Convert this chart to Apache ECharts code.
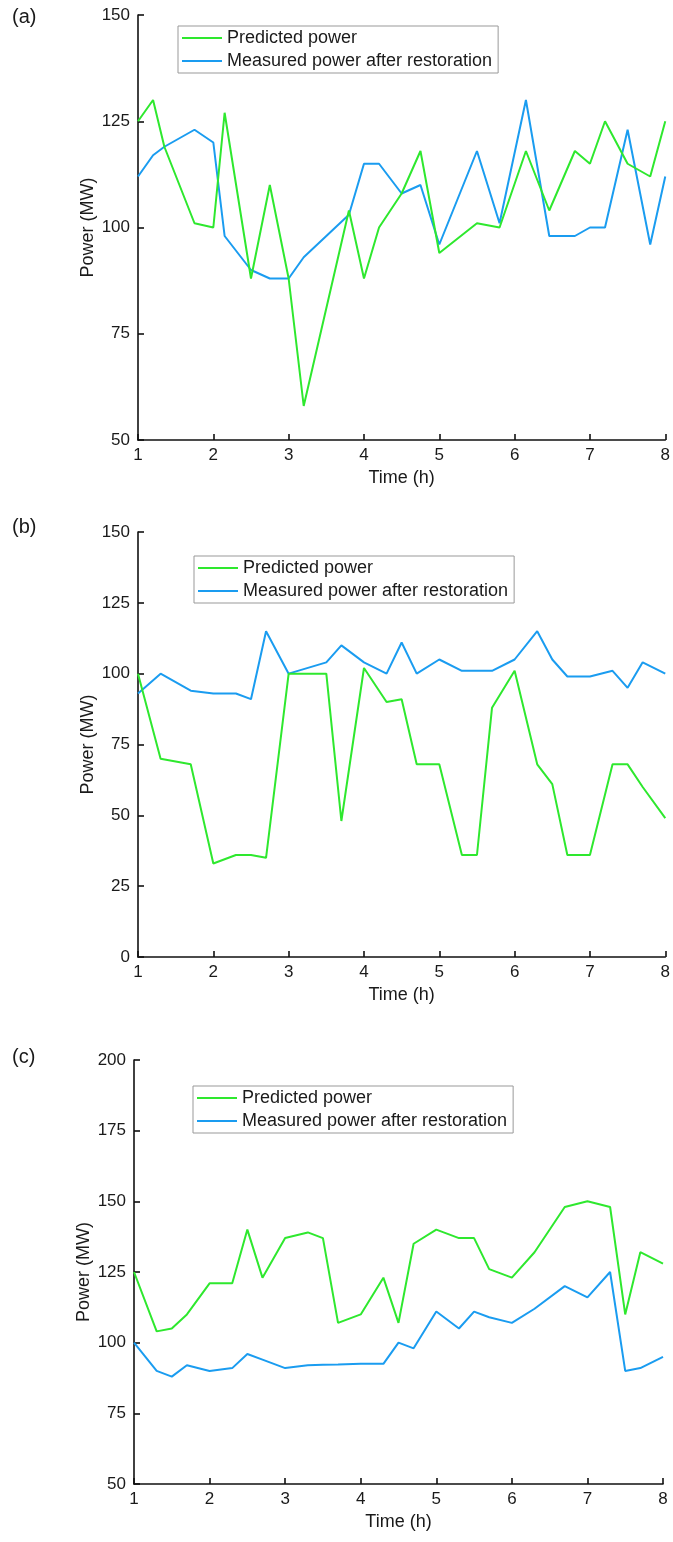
<!DOCTYPE html>
<html>
<head>
<meta charset="utf-8">
<script src="https://cdn.jsdelivr.net/npm/echarts@6/dist/echarts.min.js"></script>
<style>
html,body{margin:0;padding:0;background:#fff;}
#main{width:673px;height:1542px;}
</style>
</head>
<body>
<div id="main"></div>
<script>
// panel (a)
var timeA = [1, 1.2, 1.35, 1.75, 2, 2.15, 2.5, 2.75, 3, 3.2, 3.8, 4, 4.2, 4.5, 4.75, 5, 5.5, 5.8, 6.15, 6.46, 6.8, 7, 7.2, 7.5, 7.8, 8];
var predA = [125, 130, 119, 101, 100, 127, 88, 110, 88, 58, 104, 88, 100, 108, 118, 94, 101, 100, 118, 104, 118, 115, 125, 115, 112, 125];
var measA = [112, 117, 119, 123, 120, 98, 90, 88, 88, 93, 103, 115, 115, 108, 110, 96, 118, 101, 130, 98, 98, 100, 100, 123, 96, 112];

// panel (b)
var timeB = [1, 1.3, 1.7, 2, 2.3, 2.5, 2.7, 3, 3.5, 3.7, 4, 4.3, 4.5, 4.7, 5, 5.3, 5.5, 5.7, 6, 6.3, 6.5, 6.7, 7, 7.3, 7.5, 7.7, 8];
var predB = [100, 70, 68, 33, 36, 36, 35, 100, 100, 48, 102, 90, 91, 68, 68, 36, 36, 88, 101, 68, 61, 36, 36, 68, 68, 60, 49];
var measB = [93, 100, 94, 93, 93, 91, 115, 100, 104, 110, 104, 100, 111, 100, 105, 101, 101, 101, 105, 115, 105, 99, 99, 101, 95, 104, 100];

// panel (c)
var timeC = [1, 1.3, 1.5, 1.7, 2, 2.3, 2.5, 2.7, 3, 3.3, 3.5, 3.7, 4, 4.3, 4.5, 4.7, 5, 5.3, 5.5, 5.7, 6, 6.3, 6.7, 7, 7.3, 7.5, 7.7, 8];
var predC = [125, 104, 105, 110, 121, 121, 140, 123, 137, 139, 137, 107, 110, 123, 107, 135, 140, 137, 137, 126, 123, 132, 148, 150, 148, 110, 132, 128];
var measC = [100, 90, 88, 92, 90, 91, 96, 94, 91, 92, 92.2, 92.3, 92.5, 92.5, 100, 98, 111, 105, 111, 109, 107, 112, 120, 116, 125, 90, 91, 95];

var names = ['Predicted power', 'Measured power after restoration'];
var colors = ['#2ee82e', '#1a9cf0'];
var font = 'Liberation Sans, Arial, sans-serif';

function pairs(t, v) {
	var out = [];
	for (var i = 0; i < t.length; i++) {
		out.push([t[i], v[i]]);
	}
	return out;
}

var myChart = echarts.init(document.getElementById('main'));

var grids = [
	{left: 138, right: 7, top: 15, height: 425},
	{left: 138, right: 7, top: 532, height: 425},
	{left: 134, right: 10, top: 1060, height: 424}
];
var yRange = [[50, 150], [0, 150], [50, 200]];
var legendPos = [[178, 26], [194, 556], [193, 1086]];
var labels = ['(a)', '(b)', '(c)'];
var labelTop = [7, 517, 1047];
var data = [[predA, measA, timeA], [predB, measB, timeB], [predC, measC, timeC]];

option = {
	animation: false,
	color: colors,
	grid: grids,
	xAxis: [],
	yAxis: [],
	legend: [],
	series: [],
	graphic: []
};

for (var k = 0; k < 3; k++) {
	option.xAxis.push({
		gridIndex: k,
		type: 'value',
		min: 1,
		max: 8,
		interval: 1,
		name: 'Time (h)',
		nameLocation: 'middle',
		nameGap: 29,
		nameMoveOverlap: false,
		nameTextStyle: {fontSize: 18, color: '#1a1a1a', fontFamily: font},
		axisLine: {lineStyle: {color: '#111', width: 1.6}},
		axisTick: {inside: true, length: 6, lineStyle: {color: '#111', width: 1.6}},
		axisLabel: {fontSize: 17, color: '#1a1a1a', fontFamily: font, margin: 7},
		splitLine: {show: false}
	});
	option.yAxis.push({
		gridIndex: k,
		type: 'value',
		min: yRange[k][0],
		max: yRange[k][1],
		interval: 25,
		name: 'Power (MW)',
		nameLocation: 'middle',
		nameGap: 41,
		nameMoveOverlap: false,
		nameTextStyle: {fontSize: 18, color: '#1a1a1a', fontFamily: font},
		axisLine: {show: true, lineStyle: {color: '#111', width: 1.6}},
		axisTick: {show: true, inside: true, length: 6, lineStyle: {color: '#111', width: 1.6}},
		axisLabel: {fontSize: 17, color: '#1a1a1a', fontFamily: font, margin: 8},
		splitLine: {show: false}
	});
	option.legend.push({
		data: names,
		orient: 'vertical',
		left: legendPos[k][0],
		top: legendPos[k][1],
		icon: 'rect',
		itemWidth: 40,
		itemHeight: 2,
		itemGap: 5,
		padding: [3, 6, 3, 4],
		borderColor: '#999',
		borderWidth: 1,
		textStyle: {fontSize: 18, color: '#1a1a1a', fontFamily: font},
		selectedMode: false
	});
	for (var s = 0; s < 2; s++) {
		option.series.push({
			name: names[s],
			type: 'line',
			xAxisIndex: k,
			yAxisIndex: k,
			showSymbol: false,
			symbol: 'none',
			data: pairs(data[k][2], data[k][s]),
			lineStyle: {width: 2, color: colors[s]},
			itemStyle: {color: colors[s]},
			z: 3 - s
		});
	}
	option.graphic.push({
		type: 'text',
		left: 12,
		top: labelTop[k],
		style: {text: labels[k], font: '20px ' + font, fill: '#1a1a1a'}
	});
}

myChart.setOption(option);
</script>
</body>
</html>
